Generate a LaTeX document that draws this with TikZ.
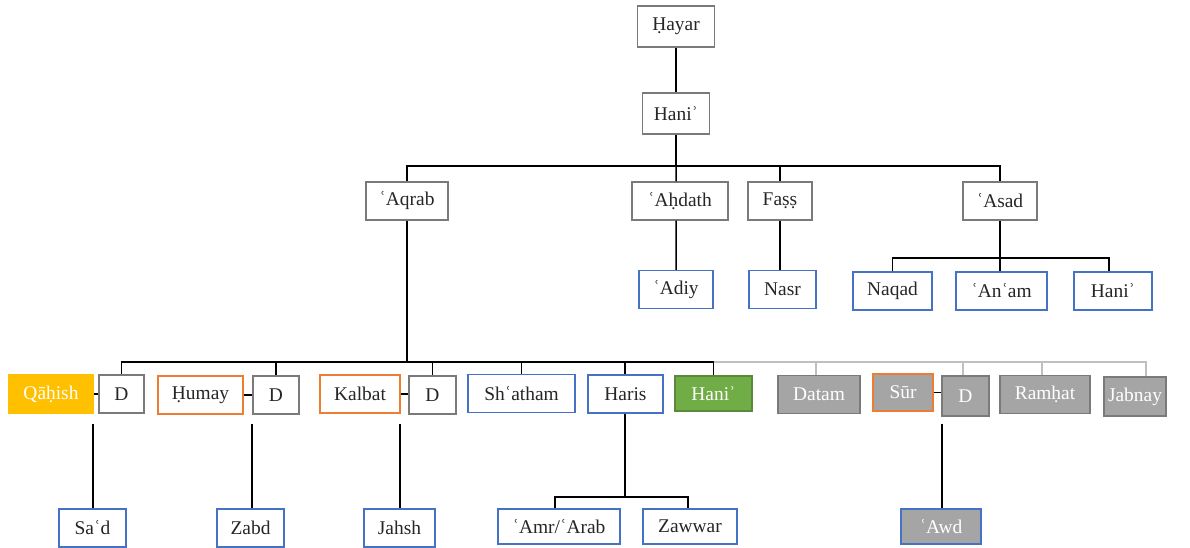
\documentclass[tikz,border=0pt]{standalone}
\usepackage{fontspec}
\setmainfont{Liberation Serif}
\definecolor{boxgrey}{HTML}{7A7A7A}
\definecolor{kinblue}{HTML}{4472C4}
\definecolor{kinorange}{HTML}{ED7D31}
\definecolor{kinamber}{HTML}{FFC000}
\definecolor{kingreen}{HTML}{70AD47}
\definecolor{kinfill}{HTML}{A5A5A5}
\definecolor{kinline}{HTML}{BFBFBF}
\definecolor{inktext}{HTML}{262626}
\begin{document}
\begin{tikzpicture}[x=1bp,y=-1bp,
  person/.style={draw=boxgrey,line width=1.4bp,fill=white,inner sep=0pt,
    minimum height=38bp,text=inktext,font=\fontsize{19.5}{22}\selectfont},
  bluebox/.style={person,draw=kinblue},
  orangebox/.style={person,draw=kinorange},
  greybox/.style={person,fill=kinfill,text=white},
  link/.style={line width=1.5bp,black},
  faint/.style={line width=1.5bp,kinline}]
\useasboundingbox (0,0) rectangle (1190,548);

% first generations
\node[person,minimum width=77bp,minimum height=41bp] (hayar) at (676,26.5) {Ḥayar};
\node[person,minimum width=67bp,minimum height=41bp] (hani0) at (676,113.5) {Haniʾ};

% sons of Haniʾ
\node[person,minimum width=82bp] (aqrab)  at (407,201)  {ʿAqrab};
\node[person,minimum width=96bp] (ahdath) at (680,201)  {ʿAḥdath};
\node[person,minimum width=64bp] (fass)   at (780,201)  {Faṣṣ};
\node[person,minimum width=74bp] (asad)   at (1000,201) {ʿAsad};

\node[bluebox,minimum width=74bp] (adiy)  at (676,289.5) {ʿAdiy};
\node[bluebox,minimum width=67bp] (nasr)  at (782.5,289.5) {Nasr};
\node[bluebox,minimum width=79bp] (naqad) at (892.5,291) {Naqad};
\node[bluebox,minimum width=91bp] (anam)  at (1001.5,291) {ʿAnʿam};
\node[bluebox,minimum width=78bp] (hani1) at (1113,291) {Haniʾ};

% descendants of ʿAqrab
\node[person,fill=kinamber,draw=kinamber,text=white,minimum width=84bp] (qahish) at (51,394) {Qāḥish};
\node[person,minimum width=45bp] (d1) at (121.5,394) {D};
\node[orangebox,minimum width=85bp] (humay) at (200.5,395) {Ḥumay};
\node[person,minimum width=46bp] (d2) at (276,395) {D};
\node[orangebox,minimum width=80bp] (kalbat) at (360,394) {Kalbat};
\node[person,minimum width=47bp] (d3) at (432.5,395) {D};
\node[bluebox,minimum width=107bp] (shatham) at (521.5,393.5) {Shʿatham};
\node[bluebox,minimum width=75bp] (haris) at (625.5,394) {Haris};
\node[person,fill=kingreen,draw=kingreen!80!black,text=white,minimum width=77bp,minimum height=35bp] (hani2) at (713.5,393.5) {Haniʾ};
\node[greybox,minimum width=82bp] (datam) at (819,394.5) {Datam};
\node[greybox,draw=kinorange,minimum width=60bp,minimum height=37bp] (sur) at (903,392.5) {Sūr};
\node[greybox,minimum width=47bp,minimum height=40bp] (d4) at (965.5,396) {D};
\node[greybox,minimum width=90bp] (ramhat) at (1045,394.5) {Ramḥat};
\node[greybox,minimum width=62bp,minimum height=39bp] (jabnay) at (1135,396.5) {Jabnay};

% grandchildren
\node[bluebox,minimum width=67bp] (sad)  at (92.5,528) {Saʿd};
\node[bluebox,minimum width=67bp] (zabd) at (250.5,528) {Zabd};
\node[bluebox,minimum width=71bp] (jahsh) at (399.5,528) {Jahsh};
\node[bluebox,minimum width=122bp,minimum height=35bp] (amr) at (559,526.5) {ʿAmr/ʿArab};
\node[bluebox,minimum width=94bp,minimum height=35bp] (zawwar) at (690,526.5) {Zawwar};
\node[greybox,draw=kinblue,minimum width=80bp,minimum height=35bp] (awd) at (941,526.5) {ʿAwd};

% junction points
\coordinate (busA) at (676,166);
\coordinate (busB) at (1000,258);
\coordinate (busC) at (407,362);
\coordinate (busD) at (625,497);
\coordinate (m1) at (93,424);
\coordinate (m2) at (252,424);
\coordinate (m3) at (400,424);
\coordinate (m4) at (942,424);

% upper lines
\draw[link] (hayar) -- (hani0);
\draw[link] (hani0) -- (busA);
\draw[link] (aqrab.north) |- (busA) -| (asad.north);
\draw[link] (busA) -- ([xshift=-4bp]ahdath.north);
\draw[link] (busA -| fass.north) -- (fass.north);
\draw[link] ([xshift=-4bp]ahdath.south) -- (adiy.north);
\draw[link] (fass.south) -- (fass.south |- nasr.north);
\draw[link] (asad.south) -- (busB);
\draw[link] (naqad.north) |- (busB) -| ([xshift=-4bp]hani1.north);
\draw[link] (busB) -- (busB |- anam.north);

% lines below ʿAqrab
\draw[link] (aqrab.south) -- (busC);
\draw[link] (d1.north) |- (busC) -| (hani2.north);
\draw[link] (busC -| d2.north) -- (d2.north);
\draw[link] (busC -| d3.north) -- (d3.north);
\draw[link] (busC -| shatham.north) -- (shatham.north);
\draw[link] (busC -| busD) -- (busD |- haris.north);
\draw[faint] (busC -| hani2.north) -| ([xshift=11bp]jabnay.north);
\draw[faint] ([xshift=-3bp]busC -| datam.north) -- ([xshift=-3bp]datam.north);
\draw[faint] ([xshift=-2.5bp]busC -| d4.north) -- ([xshift=-2.5bp]d4.north);
\draw[faint] ([xshift=-3bp]busC -| ramhat.north) -- ([xshift=-3bp]ramhat.north);

% marriage links
\draw[link] (qahish.east |- d1.west) -- (d1.west);
\draw[link] (humay.east) -- (humay.east -| d2.west);
\draw[link] (kalbat.east) -- (kalbat.east -| d3.west);
\draw[link] (sur.east) -- (sur.east -| d4.west);

% children of the couples
\draw[link] (m1) -- (m1 |- sad.north);
\draw[link] (m2) -- (m2 |- zabd.north);
\draw[link] (m3) -- (m3 |- jahsh.north);
\draw[link] (m4) -- (m4 |- awd.north);

% sons of Haris
\draw[link] (busD |- haris.south) -- (busD);
\draw[link] ([xshift=-4bp]amr.north) |- (busD) -| ([xshift=-2bp]zawwar.north);
\end{tikzpicture}
\end{document}
